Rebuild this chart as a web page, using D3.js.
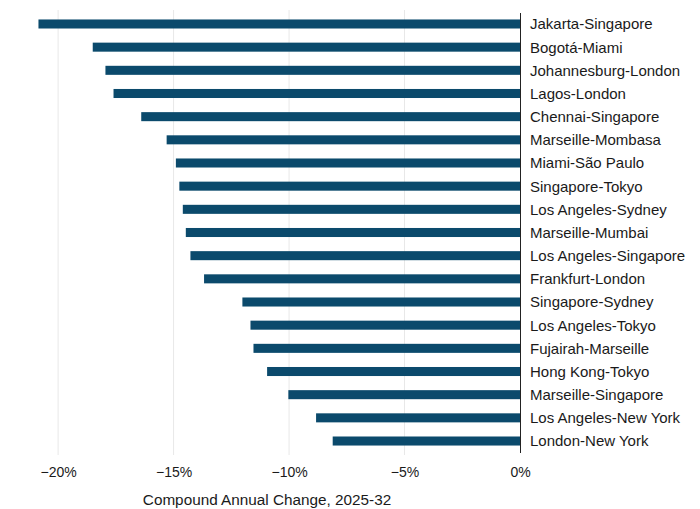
<!DOCTYPE html>
<html>
<head>
<meta charset="utf-8">
<script src="https://cdn.jsdelivr.net/npm/d3@7"></script>
<style>
  html, body { margin: 0; padding: 0; background: #fff; }
  svg { display: block; font-family: "Liberation Sans", Arial, Helvetica, sans-serif; }
</style>
</head>
<body>
<svg id="chart" width="700" height="509"></svg>
<script>
const routes = [
  "Jakarta-Singapore", "Bogotá-Miami", "Johannesburg-London", "Lagos-London",
  "Chennai-Singapore", "Marseille-Mombasa", "Miami-São Paulo", "Singapore-Tokyo",
  "Los Angeles-Sydney", "Marseille-Mumbai", "Los Angeles-Singapore", "Frankfurt-London",
  "Singapore-Sydney", "Los Angeles-Tokyo", "Fujairah-Marseille", "Hong Kong-Tokyo",
  "Marseille-Singapore", "Los Angeles-New York", "London-New York"
];
const changes = [
  -20.85, -18.5, -17.95, -17.6,
  -16.4, -15.3, -14.9, -14.75,
  -14.6, -14.47, -14.27, -13.68,
  -12.02, -11.67, -11.54, -10.95,
  -10.03, -8.83, -8.11
];
const tickValues = [-20, -15, -10, -5, 0];
const axisTitle = "Compound Annual Change, 2025-32";

const svg = d3.select("#chart");
const x = d3.scaleLinear().domain([-21, 0]).range([35, 520]);
const y = d3.scaleBand().domain(routes).range([12.4, 452.6]).paddingInner(0.61).paddingOuter(0.305);

// gridlines
svg.append("g").selectAll("line").data(tickValues.filter(t => t !== 0)).join("line")
  .attr("x1", d => x(d)).attr("x2", d => x(d))
  .attr("y1", 10).attr("y2", 455)
  .attr("stroke", "#e8e8e8").attr("stroke-width", 1);

// bars
svg.append("g").selectAll("rect").data(routes.map((r, i) => ({ r, v: changes[i] }))).join("rect")
  .attr("x", d => x(d.v))
  .attr("width", d => x(0) - x(d.v))
  .attr("y", d => y(d.r))
  .attr("height", y.bandwidth())
  .attr("fill", "#0b4a6c");

// zero axis line
svg.append("line")
  .attr("x1", x(0) + 0.5).attr("x2", x(0) + 0.5)
  .attr("y1", 13).attr("y2", 453)
  .attr("stroke", "#222").attr("stroke-width", 1);

// category labels
svg.append("g").selectAll("text").data(routes).join("text")
  .attr("x", x(0) + 10)
  .attr("y", d => y(d) + y.bandwidth() / 2)
  .attr("dy", "0.36em")
  .attr("font-size", 15)
  .attr("fill", "#1a1a1a")
  .text(d => d);

// x axis tick labels
const fmt = d => (d < 0 ? "\u2212" + Math.abs(d) : d) + "%";
const xAxis = d3.axisBottom(x).tickValues(tickValues).tickFormat(fmt).tickSize(0).tickPadding(0);
const gx = svg.append("g").attr("transform", "translate(0,467)").call(xAxis);
gx.select(".domain").remove();
gx.selectAll("text").attr("font-size", 14).attr("fill", "#1a1a1a")
  .attr("font-family", "'Liberation Sans', Arial, sans-serif");

// axis title
svg.append("text")
  .attr("x", 267).attr("y", 505)
  .attr("text-anchor", "middle")
  .attr("font-size", 15.3)
  .attr("fill", "#1a1a1a")
  .text(axisTitle);
</script>
</body>
</html>
